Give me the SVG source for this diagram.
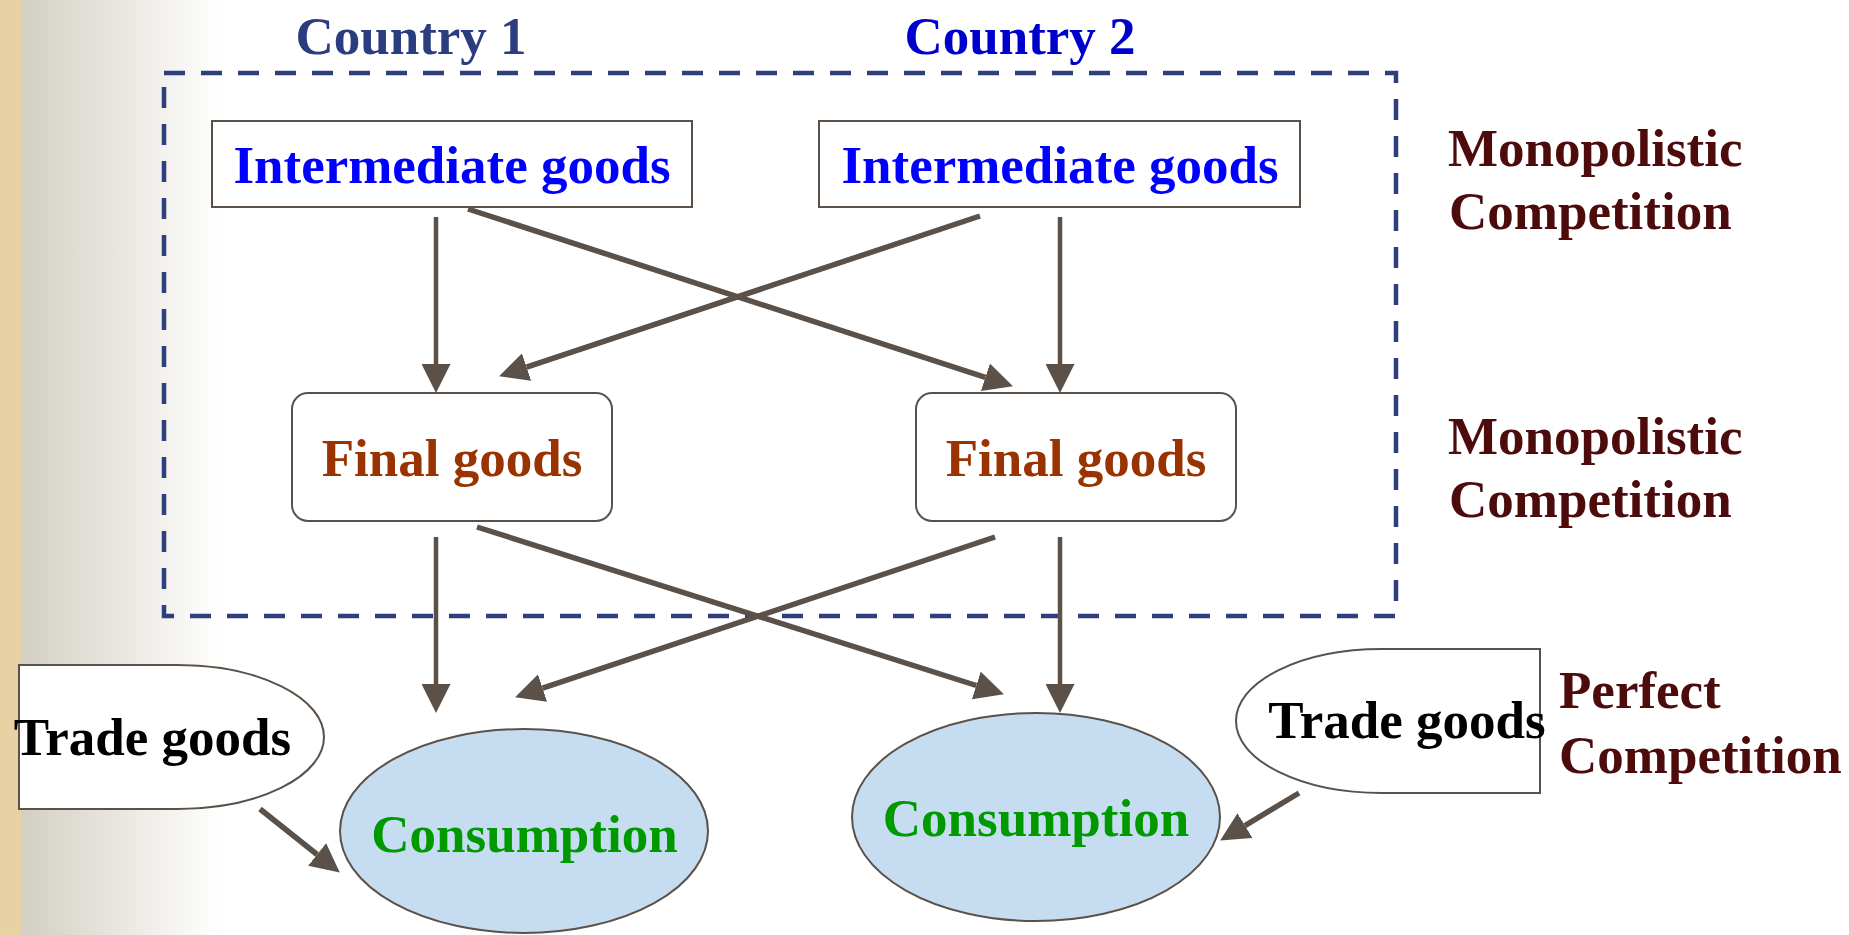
<svg xmlns="http://www.w3.org/2000/svg" width="1849" height="935" viewBox="0 0 1849 935">
  <defs>
    <linearGradient id="bg" x1="0" y1="0" x2="1" y2="0">
      <stop offset="0" stop-color="#d3cfc3"/>
      <stop offset="1" stop-color="#ffffff"/>
    </linearGradient>
    <marker id="ah" markerUnits="userSpaceOnUse" markerWidth="29" markerHeight="29" viewBox="0 0 29 29" refX="0" refY="14.5" orient="auto">
      <path d="M0,0 L29,14.5 L0,29 z" fill="#5b5148"/>
    </marker>
    <style>
      .t { font-family: "Liberation Serif", "Times New Roman", serif; font-weight: bold; font-size: 53px; }
      .box { fill: #ffffff; stroke: #5b5148; stroke-width: 2; }
      .ell { fill: #c6dcf0; stroke: #5b5148; stroke-width: 2; }
      .arr { stroke: #5b5148; stroke-width: 4.5; fill: none; marker-end: url(#ah); }
      .diag { stroke-width: 5.5; }
      .comp { fill: #4d0b0b; }
    </style>
  </defs>

  <!-- background -->
  <rect x="0" y="0" width="1849" height="935" fill="#ffffff"/>
  <rect x="21" y="0" width="200" height="935" fill="url(#bg)"/>
  <rect x="0" y="0" width="21" height="935" fill="#e8d1a2"/>

  <!-- country frame -->
  <g id="frame">
    <rect x="164" y="73" width="1232" height="543" fill="none" stroke="#2e3f7c" stroke-width="4.5" stroke-dasharray="21 16"/>
    <text class="t" x="411" y="54" text-anchor="middle" fill="#2b3d7e">Country 1</text>
    <text class="t" x="1020" y="54" text-anchor="middle" fill="#0000cc">Country 2</text>
  </g>

  <!-- connectors -->
  <g id="connectors">
    <line class="arr" x1="436" y1="217" x2="436" y2="364"/>
    <line class="arr" x1="1060" y1="217" x2="1060" y2="364"/>
    <line class="arr diag" x1="468" y1="209" x2="985.4" y2="377.3"/>
    <line class="arr diag" x1="980" y1="216" x2="526.6" y2="367.1"/>
    <line class="arr" x1="436" y1="537" x2="436" y2="684"/>
    <line class="arr" x1="1060" y1="537" x2="1060" y2="684"/>
    <line class="arr diag" x1="477" y1="527" x2="976.3" y2="685.5"/>
    <line class="arr diag" x1="995" y1="537" x2="542.6" y2="688.1"/>
    <line class="arr diag" x1="260" y1="809" x2="317.1" y2="854.5"/>
    <line class="arr diag" x1="1299" y1="793" x2="1245" y2="825.6"/>
  </g>

  <g id="ig1">
    <rect class="box" x="212" y="121" width="480" height="86"/>
    <text class="t" x="452" y="183" text-anchor="middle" fill="#0000ff">Intermediate goods</text>
  </g>
  <g id="ig2">
    <rect class="box" x="819" y="121" width="481" height="86"/>
    <text class="t" x="1060" y="183" text-anchor="middle" fill="#0000ff">Intermediate goods</text>
  </g>

  <g id="fg1">
    <rect class="box" x="292" y="393" width="320" height="128" rx="16" ry="16"/>
    <text class="t" x="452" y="476" text-anchor="middle" fill="#993300">Final goods</text>
  </g>
  <g id="fg2">
    <rect class="box" x="916" y="393" width="320" height="128" rx="16" ry="16"/>
    <text class="t" x="1076" y="476" text-anchor="middle" fill="#993300">Final goods</text>
  </g>

  <g id="c1">
    <ellipse class="ell" cx="524" cy="831" rx="184" ry="102"/>
    <text class="t" x="524.5" y="852" text-anchor="middle" fill="#009900">Consumption</text>
  </g>
  <g id="c2">
    <ellipse class="ell" cx="1036" cy="817" rx="184" ry="104"/>
    <text class="t" x="1036" y="836" text-anchor="middle" fill="#009900">Consumption</text>
  </g>

  <g id="trade1">
    <path class="box" d="M19,665 L177,665 A147,72 0 0 1 177,809 L19,809 Z"/>
    <text class="t" x="152.5" y="755" text-anchor="middle" fill="#000000">Trade goods</text>
  </g>
  <g id="trade2">
    <path class="box" d="M1540,649 L1382,649 A146,72 0 0 0 1382,793 L1540,793 Z"/>
    <text class="t" x="1407" y="738" text-anchor="middle" fill="#000000">Trade goods</text>
  </g>

  <g id="labels">
    <text class="t comp" x="1448" y="166">Monopolistic</text>
    <text class="t comp" x="1449" y="229">Competition</text>
    <text class="t comp" x="1448" y="454">Monopolistic</text>
    <text class="t comp" x="1449" y="517">Competition</text>
    <text class="t comp" x="1559" y="708">Perfect</text>
    <text class="t comp" x="1559" y="773">Competition</text>
  </g>
</svg>
